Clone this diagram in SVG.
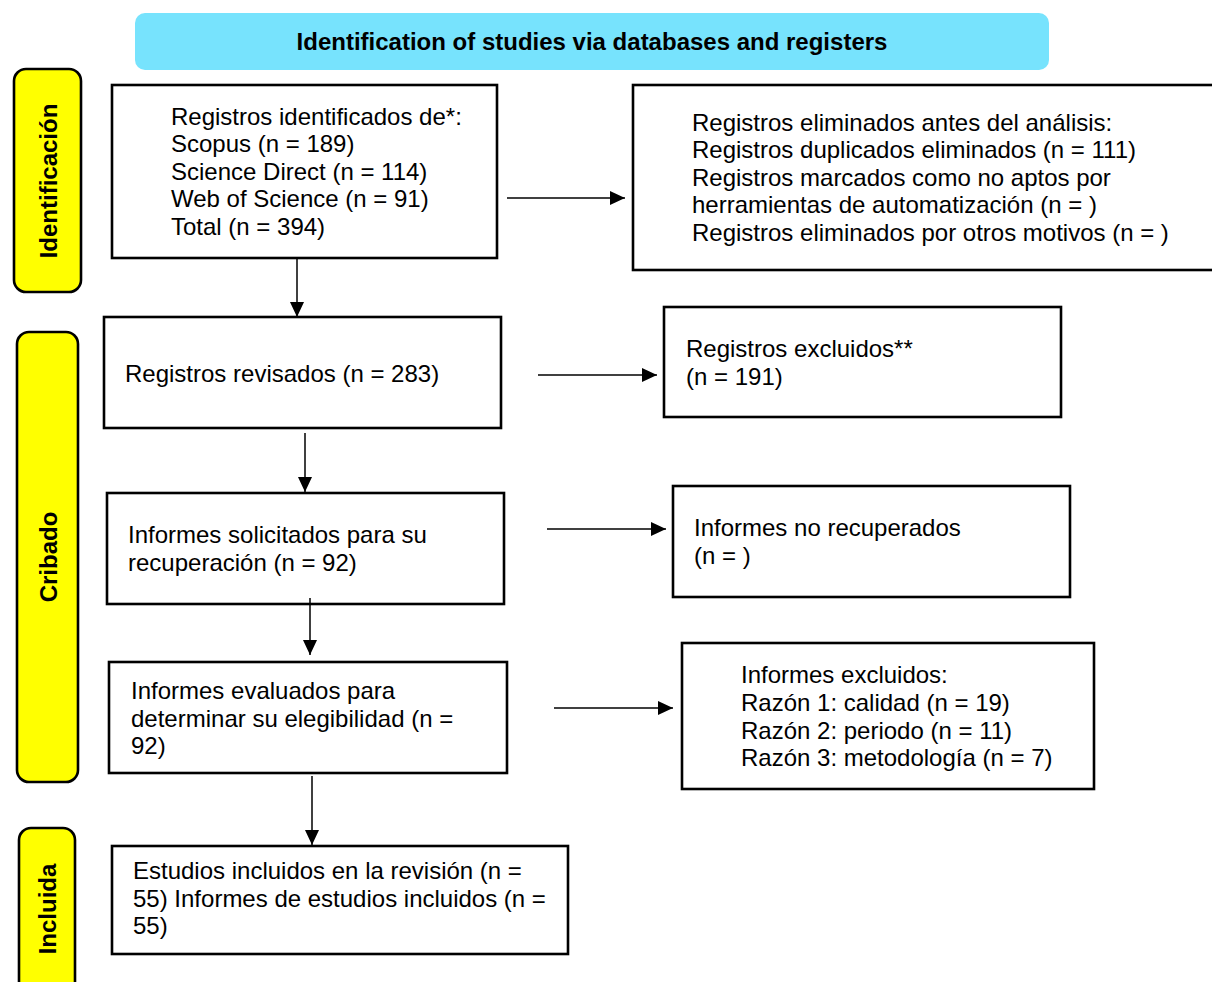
<svg xmlns="http://www.w3.org/2000/svg" width="1212" height="982" viewBox="0 0 1212 982">
<defs>
<style>
.bg{fill:#ffffff}
.box{fill:#ffffff;stroke:#000000;stroke-width:2.6}
.side{fill:#ffff00;stroke:#000000;stroke-width:2.6}
.hdr{fill:#77e3fd;stroke:none}
.t{font-family:"Liberation Sans",Arial,sans-serif;font-size:24px;fill:#000000}
.b{font-family:"Liberation Sans",Arial,sans-serif;font-size:24px;font-weight:bold;fill:#000000}
.c{stroke:#000000;stroke-width:1.5;fill:none;marker-end:url(#ah)}
</style>
<marker id="ah" markerUnits="userSpaceOnUse" markerWidth="16" markerHeight="16" viewBox="0 0 16 16" refX="15" refY="8" orient="auto">
<path d="M0,1 L15,8 L0,15 Z" fill="#000000"/>
</marker>
</defs>
<rect class="bg" x="0" y="0" width="1212" height="982"/>

<g id="header">
<rect class="hdr" x="135" y="13" width="914" height="57" rx="10" ry="10"/>
<text class="b" x="592" y="50" text-anchor="middle">Identification of studies via databases and registers</text>
</g>

<g id="label-identificacion">
<rect class="side" x="14" y="69" width="67" height="223" rx="12" ry="12"/>
<text class="b" transform="translate(56.5,181) rotate(-90)" text-anchor="middle">Identificación</text>
</g>
<g id="label-cribado">
<rect class="side" x="17" y="332" width="61" height="450" rx="12" ry="12"/>
<text class="b" transform="translate(56.5,557) rotate(-90)" text-anchor="middle">Cribado</text>
</g>
<g id="label-incluida">
<rect class="side" x="19" y="828" width="56" height="170" rx="12" ry="12"/>
<text class="b" transform="translate(56,909) rotate(-90)" text-anchor="middle">Incluida</text>
</g>

<g id="n-identificados">
<rect class="box" x="112" y="85" width="385" height="173"/>
<text class="t"><tspan x="171" y="125">Registros identificados de*:</tspan><tspan x="171" y="152">Scopus (n = 189)</tspan><tspan x="171" y="180">Science Direct (n = 114)</tspan><tspan x="171" y="207">Web of Science (n = 91)</tspan><tspan x="171" y="235">Total (n = 394)</tspan></text>
</g>

<g id="n-eliminados">
<rect class="box" x="633" y="85" width="585" height="185"/>
<text class="t"><tspan x="692" y="131">Registros eliminados antes del análisis:</tspan><tspan x="692" y="158">Registros duplicados eliminados (n = 111)</tspan><tspan x="692" y="186">Registros marcados como no aptos por</tspan><tspan x="692" y="213">herramientas de automatización (n = )</tspan><tspan x="692" y="241">Registros eliminados por otros motivos (n = )</tspan></text>
</g>

<g id="n-revisados">
<rect class="box" x="104" y="317" width="397" height="111"/>
<text class="t" x="125" y="382">Registros revisados (n = 283)</text>
</g>

<g id="n-excluidos">
<rect class="box" x="664" y="307" width="397" height="110"/>
<text class="t"><tspan x="686" y="357">Registros excluidos**</tspan><tspan x="686" y="385">(n = 191)</tspan></text>
</g>

<g id="n-solicitados">
<rect class="box" x="107" y="493" width="397" height="111"/>
<text class="t"><tspan x="128" y="543">Informes solicitados para su</tspan><tspan x="128" y="571">recuperación (n = 92)</tspan></text>
</g>

<g id="n-no-recuperados">
<rect class="box" x="673" y="486" width="397" height="111"/>
<text class="t"><tspan x="694" y="536">Informes no recuperados</tspan><tspan x="694" y="564">(n = )</tspan></text>
</g>

<g id="n-evaluados">
<rect class="box" x="109" y="662" width="398" height="111"/>
<text class="t"><tspan x="131" y="699">Informes evaluados para</tspan><tspan x="131" y="727">determinar su elegibilidad (n =</tspan><tspan x="131" y="754">92)</tspan></text>
</g>

<g id="n-informes-excluidos">
<rect class="box" x="682" y="643" width="412" height="146"/>
<text class="t"><tspan x="741" y="683">Informes excluidos:</tspan><tspan x="741" y="711">Razón 1: calidad (n = 19)</tspan><tspan x="741" y="739">Razón 2: periodo (n = 11)</tspan><tspan x="741" y="766">Razón 3: metodología (n = 7)</tspan></text>
</g>

<g id="n-incluidos">
<rect class="box" x="112" y="846" width="456" height="108"/>
<text class="t"><tspan x="133" y="879">Estudios incluidos en la revisión (n =</tspan><tspan x="133" y="907">55) Informes de estudios incluidos (n =</tspan><tspan x="133" y="934">55)</tspan></text>
</g>

<g id="connectors">
<line class="c" x1="297" y1="259" x2="297" y2="317"/>
<line class="c" x1="305" y1="433" x2="305" y2="492"/>
<line class="c" x1="310" y1="598" x2="310" y2="655"/>
<line class="c" x1="312" y1="776" x2="312" y2="845"/>
<line class="c" x1="507" y1="198" x2="625" y2="198"/>
<line class="c" x1="538" y1="375" x2="657" y2="375"/>
<line class="c" x1="547" y1="529" x2="666" y2="529"/>
<line class="c" x1="554" y1="708" x2="673" y2="708"/>
</g>
</svg>
